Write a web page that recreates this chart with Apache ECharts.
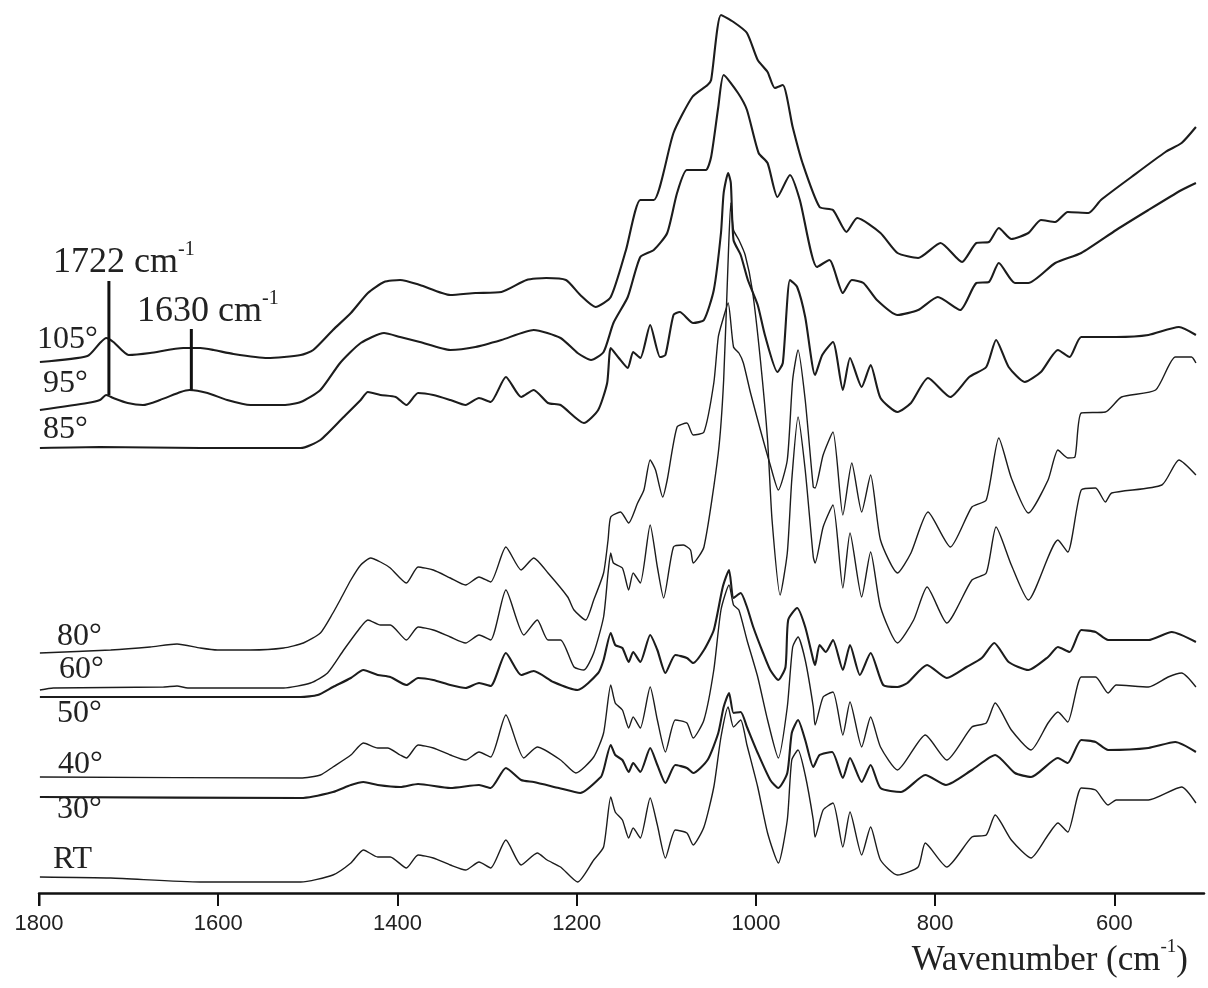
<!DOCTYPE html>
<html>
<head>
<meta charset="utf-8">
<script src="https://cdn.jsdelivr.net/npm/echarts@6/dist/echarts.min.js"></script>
<style>
html,body{margin:0;padding:0;background:#fff;}
#chart{width:1208px;height:988px;}
</style>
</head>
<body>
<div id="chart"></div>
<script>
// Spectra: [wavenumber (cm-1), stacked intensity (a.u.)]
const spec105 = [[1799,531],[1746,537],[1732,550],[1725,555],[1717,551],[1700,538],[1676,540],[1639,545],[1620,545],[1605,543],[1583,539],[1545,535],[1508,538],[1494,543],[1472,563],[1452,580],[1433,600],[1415,611],[1397,613],[1375,608],[1341,598],[1313,600],[1284,601],[1256,613],[1234,615],[1212,613],[1196,598],[1179,586],[1162,596],[1145,643],[1129,693],[1114,693],[1092,760],[1071,796],[1054,808],[1050,813],[1039,878],[1025,871],[1010,860],[998,833],[987,821],[979,805],[970,808],[959,766],[948,730],[929,686],[914,683],[899,661],[887,675],[861,660],[842,640],[819,635],[794,650],[770,631],[754,650],[740,651],[729,665],[715,654],[696,660],[682,673],[666,671],[652,681],[629,680],[615,693],[581,716],[543,741],[525,750],[509,766]];
const spec95 = [[1799,483],[1746,490],[1732,493],[1725,498],[1717,495],[1701,490],[1684,488],[1665,493],[1642,501],[1632,503],[1612,500],[1590,493],[1564,488],[1527,488],[1508,491],[1486,503],[1464,530],[1441,550],[1415,560],[1397,556],[1375,551],[1341,543],[1313,546],[1284,553],[1248,563],[1218,555],[1199,540],[1184,533],[1170,541],[1159,570],[1143,596],[1129,636],[1114,643],[1099,660],[1088,700],[1077,723],[1056,723],[1050,736],[1042,786],[1036,818],[1020,800],[1010,783],[997,740],[987,730],[976,696],[962,718],[951,693],[932,626],[918,633],[903,600],[893,613],[880,610],[865,593],[842,578],[819,583],[797,596],[772,583],[754,610],[740,611],[729,630],[711,610],[696,610],[666,630],[637,640],[598,663],[562,683],[525,703],[509,710]];
const spec85 = [[1799,445],[1732,446],[1620,445],[1508,445],[1486,453],[1460,476],[1441,493],[1433,501],[1419,498],[1402,496],[1390,488],[1377,500],[1360,498],[1341,493],[1324,488],[1309,495],[1296,491],[1279,516],[1262,496],[1248,503],[1232,490],[1218,488],[1192,470],[1176,483],[1166,510],[1162,545],[1153,535],[1143,525],[1137,541],[1129,535],[1118,568],[1107,536],[1101,538],[1092,578],[1085,581],[1070,570],[1058,573],[1047,603],[1039,660],[1036,700],[1031,720],[1028,710],[1025,653],[1017,638],[1009,613],[998,588],[990,558],[976,521],[970,530],[962,613],[954,606],[945,576],[934,518],[926,538],[914,551],[903,503],[895,535],[882,506],[872,528],[861,495],[842,481],[827,490],[808,515],[783,496],[762,516],[743,526],[732,553],[718,526],[700,511],[682,521],[663,543],[650,536],[637,556],[598,556],[562,558],[528,566],[509,558]];
const spec80 = [[1799,240],[1720,243],[1676,246],[1646,249],[1620,245],[1601,243],[1564,243],[1527,245],[1505,250],[1486,260],[1472,280],[1464,293],[1452,313],[1441,328],[1430,335],[1419,331],[1408,325],[1390,310],[1377,326],[1360,323],[1341,315],[1324,308],[1309,316],[1296,311],[1279,346],[1262,323],[1248,335],[1232,320],[1210,296],[1203,283],[1190,273],[1181,293],[1170,320],[1165,353],[1162,376],[1151,381],[1142,370],[1132,390],[1125,403],[1118,433],[1112,423],[1104,396],[1099,413],[1088,466],[1077,470],[1070,458],[1058,461],[1047,510],[1042,556],[1037,573],[1031,590],[1025,546],[1019,540],[1014,530],[1006,500],[995,463],[984,428],[975,403],[965,433],[959,513],[953,543],[945,493],[936,406],[934,405],[925,438],[914,461],[903,378],[893,430],[882,381],[872,418],[861,353],[842,320],[827,340],[808,381],[783,346],[759,386],[743,393],[729,455],[715,415],[696,380],[674,413],[663,443],[652,435],[644,436],[637,480],[610,481],[592,496],[554,503],[532,536],[514,536],[509,530]];
const spec60 = [[1799,203],[1784,205],[1661,206],[1646,207],[1634,205],[1527,205],[1497,210],[1478,220],[1460,243],[1441,266],[1433,273],[1419,268],[1408,268],[1390,253],[1377,266],[1360,263],[1341,256],[1324,250],[1309,258],[1296,253],[1279,303],[1259,258],[1244,273],[1232,253],[1218,253],[1203,226],[1192,223],[1181,240],[1170,276],[1165,320],[1162,340],[1159,330],[1149,325],[1142,303],[1137,320],[1129,310],[1118,368],[1110,326],[1103,295],[1092,346],[1081,348],[1073,343],[1070,330],[1058,346],[1042,440],[1036,513],[1031,633],[1028,690],[1025,663],[1019,653],[1012,638],[1004,603],[995,533],[987,453],[982,373],[973,298],[965,340],[960,413],[953,476],[945,423],[936,336],[934,330],[925,366],[914,388],[903,305],[895,360],[882,296],[872,341],[861,286],[842,250],[824,273],[809,306],[787,270],[759,313],[743,320],[732,366],[715,328],[696,293],[663,353],[652,341],[637,403],[621,405],[610,391],[603,400],[547,408],[528,433],[509,418]];
const spec50 = [[1799,196],[1508,196],[1489,198],[1472,206],[1452,215],[1438,223],[1422,218],[1408,216],[1390,208],[1377,215],[1360,213],[1341,208],[1324,205],[1309,210],[1296,207],[1279,240],[1262,218],[1248,222],[1226,211],[1199,203],[1176,220],[1170,233],[1162,260],[1157,248],[1149,245],[1142,231],[1137,241],[1129,231],[1118,258],[1110,243],[1101,220],[1090,238],[1077,235],[1070,230],[1058,243],[1047,263],[1037,306],[1030,323],[1025,295],[1017,300],[1010,286],[1003,266],[992,240],[984,223],[975,213],[967,226],[964,273],[954,285],[945,266],[936,233],[934,228],[929,248],[922,241],[914,253],[903,223],[895,248],[884,218],[872,240],[858,208],[842,206],[831,210],[809,228],[787,215],[765,226],[748,235],[734,250],[718,231],[696,223],[674,236],[663,246],[650,241],[637,263],[621,261],[607,253],[562,253],[536,261],[509,251]];
const spec40 = [[1799,116],[1508,115],[1486,118],[1472,126],[1452,138],[1438,150],[1422,145],[1411,145],[1397,138],[1390,135],[1377,148],[1360,145],[1341,138],[1324,133],[1309,141],[1296,136],[1279,178],[1259,135],[1244,146],[1218,133],[1201,120],[1181,136],[1170,160],[1162,208],[1157,190],[1149,183],[1142,165],[1137,176],[1129,165],[1118,206],[1110,173],[1101,141],[1090,173],[1077,170],[1070,155],[1058,173],[1047,223],[1039,283],[1030,308],[1025,288],[1019,283],[1010,253],[998,216],[987,173],[975,135],[965,186],[959,246],[953,256],[945,233],[936,186],[934,168],[925,196],[914,201],[903,158],[895,191],[882,146],[872,176],[861,146],[842,123],[811,158],[787,133],[759,166],[743,170],[733,190],[715,163],[693,143],[674,170],[663,181],[652,171],[637,216],[621,216],[607,200],[598,208],[562,206],[540,216],[525,220],[509,206]];
const spec30 = [[1799,96],[1508,95],[1472,101],[1452,108],[1438,111],[1422,108],[1397,106],[1377,109],[1341,105],[1309,108],[1296,105],[1279,125],[1262,113],[1248,111],[1220,105],[1196,100],[1173,116],[1170,123],[1162,148],[1157,138],[1149,133],[1142,121],[1137,130],[1129,121],[1118,145],[1110,128],[1101,110],[1090,128],[1077,125],[1070,120],[1054,133],[1042,160],[1036,186],[1030,200],[1025,180],[1017,181],[1010,166],[998,140],[984,113],[975,105],[965,120],[960,160],[953,173],[945,153],[936,126],[929,138],[915,141],[903,115],[895,135],[882,111],[872,128],[861,105],[838,101],[811,118],[788,108],[759,123],[733,138],[711,120],[693,116],[663,135],[652,130],[637,153],[621,151],[607,143],[562,145],[532,151],[509,141]];
const specRT = [[1799,16],[1720,15],[1620,11],[1508,11],[1472,18],[1452,30],[1438,43],[1422,36],[1408,36],[1390,25],[1377,38],[1360,35],[1341,28],[1324,23],[1309,31],[1296,25],[1279,53],[1262,28],[1244,40],[1233,33],[1218,26],[1199,11],[1181,33],[1170,46],[1162,96],[1157,81],[1149,73],[1142,55],[1137,65],[1129,55],[1118,95],[1110,68],[1101,35],[1090,63],[1077,60],[1070,48],[1058,66],[1047,106],[1039,156],[1031,186],[1025,166],[1017,173],[1010,148],[998,106],[987,60],[975,30],[965,73],[960,133],[953,143],[945,118],[936,73],[934,56],[925,83],[914,90],[903,46],[895,81],[882,38],[872,66],[861,33],[842,18],[819,26],[811,50],[787,26],[759,56],[743,58],[733,78],[715,53],[693,35],[674,58],[663,70],[652,61],[637,105],[621,103],[607,88],[598,93],[562,93],[525,106],[509,90]];

const seriesNames = ['105°','95°','85°','80°','60°','50°','40°','30°','RT'];
const seriesData = [spec105, spec95, spec85, spec80, spec60, spec50, spec40, spec30, specRT];
const thickSeries = ['105°','95°','85°','50°','30°'];

const tickValues = [600,800,1000,1200,1400,1600,1800];
const markerWavenumbers = [1722, 1630];
const markerTop = [612, 564];
const markerBottom = [498, 503];

const chart = echarts.init(document.getElementById('chart'), null, {renderer:'canvas'});

const series = seriesData.map((d, i) => ({
  name: seriesNames[i],
  type: 'line',
  data: d,
  showSymbol: false,
  symbol: 'none',
  smooth: 0.2,
  animation: false,
  silent: true,
  lineStyle: { color: '#1c1c1c', width: thickSeries.includes(seriesNames[i]) ? 2.1 : 1.4 }
}));
markerWavenumbers.forEach((w, i) => {
  series.push({
    type: 'line', data: [[w, markerTop[i]], [w, markerBottom[i]]],
    showSymbol: false, symbol: 'none', animation: false, silent: true,
    lineStyle: { color: '#111', width: 3 }
  });
});

const serif = '"Liberation Serif", "DejaVu Serif", serif';
const labelPos = [[37,342],[43,386],[43,432],[57,639],[59,672],[57,716],[58,767],[57,812],[53,862]];
const graphics = seriesNames.map((n, i) => ({
  type: 'text', left: labelPos[i][0], top: labelPos[i][1] - 18,
  style: { text: n, font: '32px ' + serif, fill: '#222' }
}));
const richStyle = (big, small) => ({
  n: { fontSize: big, fontFamily: serif, lineHeight: big + 5, verticalAlign: 'bottom', fill:'#222' },
  s: { fontSize: small, fontFamily: serif, lineHeight: small, verticalAlign: 'top', fill:'#222' }
});
graphics.push({ type: 'text', left: 53, top: 240,
  style: { text: '{n|1722 cm}{s|-1}', fill: '#222', rich: richStyle(36, 20) } });
graphics.push({ type: 'text', left: 137, top: 289,
  style: { text: '{n|1630 cm}{s|-1}', fill: '#222', rich: richStyle(36, 20) } });
graphics.push({ type: 'text', right: 20, top: 938,
  style: { text: '{n|Wavenumber (cm}{s|-1}{n|)}', fill: '#222', rich: richStyle(35, 19) } });
// tick at the left axis end
graphics.push({ type: 'line', shape: { x1: 39.5, y1: 893, x2: 39.5, y2: 906 }, style: { stroke: '#111', lineWidth: 2 } });

chart.setOption({
  animation: false,
  backgroundColor: '#fff',
  grid: { left: 39, right: 4, top: 0, bottom: 95, containLabel: false },
  xAxis: {
    type: 'value', min: 500, max: 1800, inverse: true,
    axisLine: { show: true, lineStyle: { color: '#111', width: 2.5 } },
    axisTick: { show: true, length: 13, inside: false, lineStyle: { color: '#111', width: 2 }, customValues: tickValues },
    axisLabel: { color: '#222', fontSize: 22, fontFamily: '"Liberation Sans", Arial, sans-serif', margin: 20,
      customValues: tickValues, showMinLabel: true, showMaxLabel: true, hideOverlap: false,
      formatter: v => String(v) },
    splitLine: { show: false }
  },
  yAxis: { type: 'value', min: 0, max: 893, show: false, splitLine: {show:false} },
  series: series,
  graphic: graphics
});
</script>
</body>
</html>
